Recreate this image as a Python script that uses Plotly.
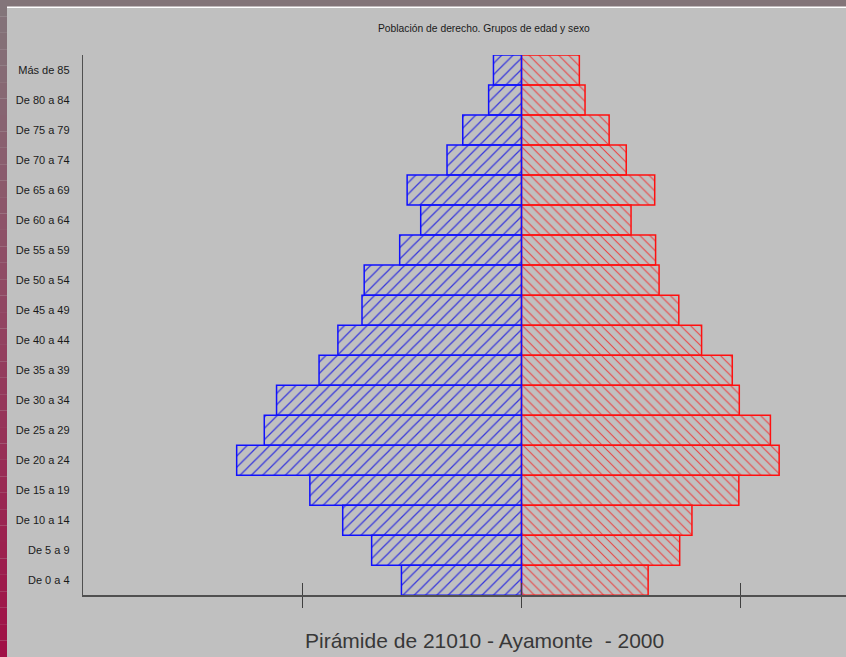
import plotly.graph_objects as go

# ---- data ----
age_groups = ["De 0 a 4", "De 5 a 9", "De 10 a 14", "De 15 a 19", "De 20 a 24",
              "De 25 a 29", "De 30 a 34", "De 35 a 39", "De 40 a 44", "De 45 a 49",
              "De 50 a 54", "De 55 a 59", "De 60 a 64", "De 65 a 69", "De 70 a 74",
              "De 75 a 79", "De 80 a 84", "Más de 85"]
hombres = [274, 342, 408, 483, 650, 587, 559, 462, 419, 364,
           359, 278, 230, 261, 170, 134, 75, 64]
mujeres = [289, 361, 389, 496, 588, 568, 497, 481, 411, 359,
           314, 306, 250, 304, 239, 200, 145, 132]
tick_values = [-500, 0, 500, 1000]
chart_title = "Población de derecho. Grupos de edad y sexo"
footer_text = "Pirámide de 21010 - Ayamonte\u00a0\u00a0- 2000"

W, H = 846, 657
PX0, PX1 = 83.3, 846.0          # plot area, pixels
PY0, PY1 = 55.0, 595.3
ZERO_PX = 521.5
TICK_PX = 219.1

x_left = -2 * tick_values[2]
x_right = (PX1 - ZERO_PX) / TICK_PX * tick_values[2]

fig = go.Figure()
fig.add_trace(go.Bar(
    y=age_groups, x=mujeres, base=0, orientation="h", name="Mujeres",
    marker=dict(color="#ff0000",
                line=dict(color="#ff1010", width=1.5),
                pattern=dict(shape="\\", fillmode="replace", fgcolor="#f03030",
                             bgcolor="rgba(0,0,0,0)", size=7, solidity=0.16, fgopacity=0.85)),
    showlegend=False, hoverinfo="skip"))
fig.add_trace(go.Bar(
    y=age_groups, x=[-v for v in hombres], base=0, orientation="h", name="Hombres",
    marker=dict(color="#0000ff",
                line=dict(color="#1010ff", width=1.5),
                pattern=dict(shape="/", fillmode="replace", fgcolor="#2020e0",
                             bgcolor="rgba(0,0,0,0)", size=8, solidity=0.16, fgopacity=0.85)),
    showlegend=False, hoverinfo="skip"))

# ---- frame decoration ----
shapes = []
shapes.append(dict(type="rect", xref="paper", yref="paper", x0=0, x1=1,
                   y0=(H - 7) / H, y1=1, fillcolor="#837579", line=dict(width=0), layer="below"))
nb = 40
c0 = (131, 117, 122)
c1 = (160, 16, 70)
for i in range(nb):
    t = i / (nb - 1)
    col = "rgb(%d,%d,%d)" % tuple(round(a + (b - a) * t) for a, b in zip(c0, c1))
    shapes.append(dict(type="rect", xref="paper", yref="paper", x0=0, x1=7 / W,
                       y0=1 - (i + 1) / nb, y1=1 - i / nb, fillcolor=col,
                       line=dict(width=0), layer="below"))
shapes.append(dict(type="line", xref="paper", yref="paper", x0=7 / W, x1=1,
                   y0=(H - 7.3) / H, y1=(H - 7.3) / H, line=dict(color="white", width=1.6)))

fig.update_layout(
    width=W, height=H,
    margin=dict(l=0, r=0, t=0, b=0),
    paper_bgcolor="#c0c0c0", plot_bgcolor="rgba(0,0,0,0)",
    barmode="overlay", bargap=0,
    shapes=shapes,
    xaxis=dict(domain=[PX0 / W, PX1 / W], range=[x_left, x_right], automargin=False,
               showgrid=False, zeroline=False, showline=True, linecolor="#505050", linewidth=1.5,
               ticks="outside", ticklen=11, tickwidth=1.5, tickcolor="#404040",
               tickvals=tick_values, showticklabels=False, fixedrange=True),
    xaxis2=dict(overlaying="x", matches="x", anchor="y", side="bottom",
                showgrid=False, zeroline=False, showline=False,
                ticks="inside", ticklen=12, tickwidth=1.5, tickcolor="#404040",
                tickvals=tick_values, showticklabels=False),
    yaxis=dict(domain=[(H - PY1) / H, (H - PY0) / H], type="category",
               categoryorder="array", categoryarray=age_groups, range=[-0.5, 17.5],
               automargin=False, showgrid=False, zeroline=False,
               showline=True, linecolor="#505050", linewidth=1.5,
               ticks="outside", ticklen=10, tickcolor="rgba(0,0,0,0)",
               tickfont=dict(family="Liberation Sans, Arial, sans-serif", size=11, color="#1a1a1a")),
    annotations=[
        dict(text=chart_title, xref="paper", yref="paper", x=484.5 / W, y=(H - 28.5) / H,
             xanchor="center", yanchor="middle", showarrow=False,
             font=dict(family="Liberation Sans, Arial, sans-serif", size=10.3, color="#1a1a1a")),
        dict(text=footer_text, xref="paper", yref="paper", x=302.5 / W, y=(H - 640) / H,
             xanchor="left", yanchor="middle", showarrow=False,
             font=dict(family="Liberation Sans, Arial, sans-serif", size=21, color="#383838")),
    ],
)
# dummy invisible trace so xaxis2 is drawn
fig.add_trace(go.Scatter(x=[0], y=[age_groups[0]], xaxis="x2", mode="markers",
                         marker=dict(opacity=0), showlegend=False, hoverinfo="skip"))

fig.write_html("out.html", config={"displayModeBar": False, "staticPlot": True},
               post_script="document.body.style.margin='0';")
